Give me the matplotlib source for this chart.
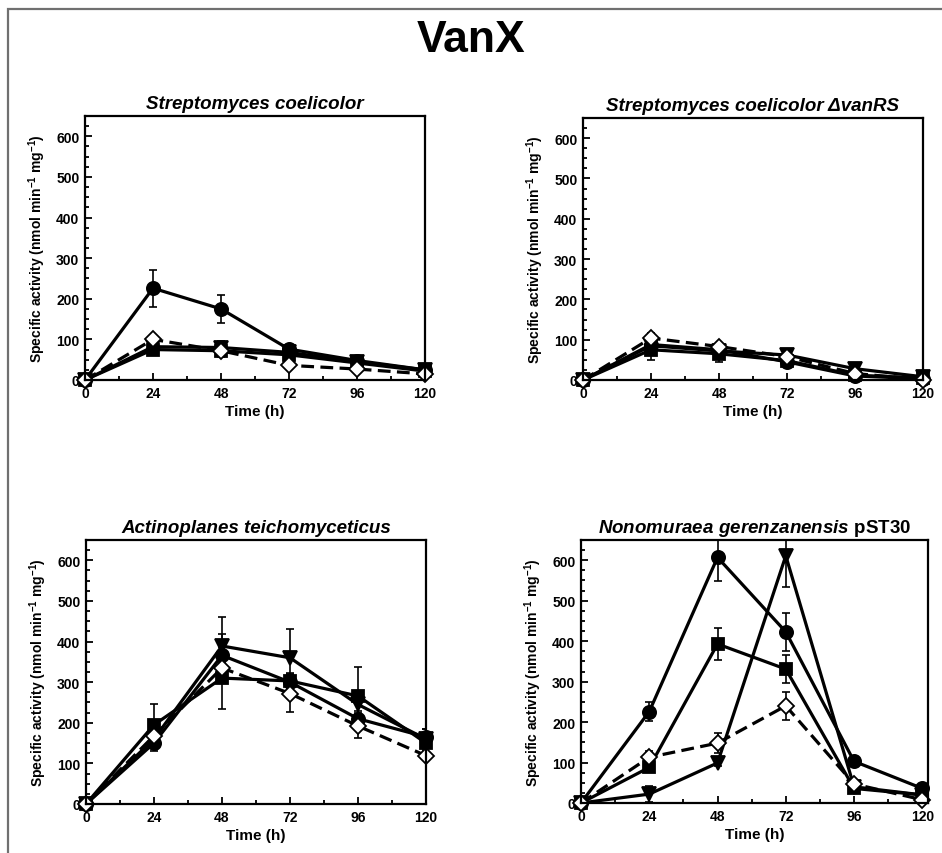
"""VanX specific activity time courses, four strains."""

import matplotlib
matplotlib.use("Agg")
import matplotlib.pyplot as plt
from matplotlib.patches import Rectangle
from matplotlib.ticker import MultipleLocator

plt.rcParams["font.family"] = ["Liberation Sans", "DejaVu Sans"]
plt.rcParams["font.weight"] = "bold"
plt.rcParams["mathtext.fontset"] = "custom"
plt.rcParams["mathtext.rm"] = "Liberation Sans:bold"
plt.rcParams["mathtext.bf"] = "Liberation Sans:bold"
plt.rcParams["mathtext.it"] = "Liberation Sans:bold:italic"

times = [0, 24, 48, 72, 96, 120]

# S. coelicolor
sc_circle = [0, 226, 175, 76, 48, 25]
sc_circle_err = [0, 46, 35, 10, 6, 5]
sc_square = [0, 75, 72, 62, 42, 22]
sc_square_err = [0, 8, 8, 6, 5, 4]
sc_tri = [0, 82, 80, 68, 45, 25]
sc_tri_err = [0, 10, 15, 6, 5, 4]
sc_diamond = [0, 100, 72, 36, 27, 15]
sc_diamond_err = [0, 10, 15, 6, 5, 3]

# S. coelicolor delta vanRS
vr_circle = [0, 88, 75, 45, 10, 3]
vr_circle_err = [0, 10, 10, 5, 4, 2]
vr_square = [0, 75, 65, 48, 12, 5]
vr_square_err = [0, 25, 20, 6, 4, 2]
vr_tri = [0, 85, 72, 62, 28, 8]
vr_tri_err = [0, 10, 10, 12, 5, 2]
vr_diamond = [0, 104, 83, 58, 16, 1]
vr_diamond_err = [0, 12, 6, 8, 5, 2]

# Actinoplanes teichomyceticus
at_circle = [0, 150, 366, 300, 210, 165]
at_circle_err = [0, 20, 52, 20, 20, 20]
at_square = [0, 195, 310, 303, 266, 150]
at_square_err = [0, 50, 77, 20, 72, 20]
at_tri = [0, 160, 389, 360, 245, 160]
at_tri_err = [0, 15, 72, 70, 20, 25]
at_diamond = [0, 168, 335, 272, 192, 119]
at_diamond_err = [0, 10, 15, 45, 30, 5]

# Nonomuraea gerenzanensis pST30
ng_circle = [0, 226, 607, 423, 103, 36]
ng_circle_err = [0, 24, 58, 47, 8, 5]
ng_square = [0, 88, 393, 331, 36, 20]
ng_square_err = [0, 8, 40, 34, 5, 4]
ng_tri = [0, 22, 99, 611, 40, 20]
ng_tri_err = [0, 20, 8, 77, 5, 4]
ng_diamond = [0, 113, 148, 240, 47, 8]
ng_diamond_err = [0, 16, 25, 35, 6, 3]

panels = [
    {
        "title": "Streptomyces coelicolor",
        "rect": [85, 117, 425, 381],
        "xmax": 120,
        "series": [(sc_circle, sc_circle_err), (sc_square, sc_square_err),
                   (sc_tri, sc_tri_err), (sc_diamond, sc_diamond_err)],
    },
    {
        "title": "Streptomyces coelicolor \u0394vanRS",
        "rect": [583, 119, 923, 381],
        "xmax": 120,
        "series": [(vr_circle, vr_circle_err), (vr_square, vr_square_err),
                   (vr_tri, vr_tri_err), (vr_diamond, vr_diamond_err)],
    },
    {
        "title": "Actinoplanes teichomyceticus",
        "rect": [86, 541, 426, 805],
        "xmax": 120,
        "series": [(at_circle, at_circle_err), (at_square, at_square_err),
                   (at_tri, at_tri_err), (at_diamond, at_diamond_err)],
    },
    {
        "title": r"$\mathit{Nonomuraea\ gerenzanensis}$ pST30",
        "rect": [581, 541, 928, 804],
        "xmax": 122,
        "series": [(ng_circle, ng_circle_err), (ng_square, ng_square_err),
                   (ng_tri, ng_tri_err), (ng_diamond, ng_diamond_err)],
    },
]

STYLES = [
    dict(marker="o", mfc="black", ls="-", ms=9.5),
    dict(marker="s", mfc="black", ls="-", ms=8.5),
    dict(marker="v", mfc="black", ls="-", ms=10),
    dict(marker="D", mfc="white", ls="--", ms=8),
]

W, H = 942, 854
fig = plt.figure(figsize=(W / 100, H / 100), dpi=100)

fig.patches.append(Rectangle((8 / W, -0.1), 1.2, 1.1 - 10 / H, transform=fig.transFigure,
                             fill=False, ec="#707070", lw=1.6))
fig.text(0.5, 1 - 41 / H, "VanX", ha="center", va="center", fontsize=32,
         fontweight="bold", family=["Liberation Sans Narrow", "Liberation Sans"])

for p in panels:
    l, t, r, b = p["rect"]
    ax = fig.add_axes([l / W, 1 - b / H, (r - l) / W, (b - t) / H])
    for (vals, err), st in zip(p["series"], STYLES):
        ax.errorbar(times, vals, yerr=err, fmt="none", ecolor="black",
                    elinewidth=1.2, capsize=3, capthick=1.2)
        ax.plot(times, vals, color="black", lw=2.3, mec="black", mew=1.3,
                clip_on=False, dashes=(4, 2) if st["ls"] == "--" else (None, None),
                **{k: v for k, v in st.items() if k != "ls"})
    ax.set_xlim(0, p["xmax"])
    ax.set_ylim(0, 650)
    ax.set_xticks(times)
    ax.xaxis.set_minor_locator(MultipleLocator(12))
    ax.yaxis.set_major_locator(MultipleLocator(100))
    ax.yaxis.set_minor_locator(MultipleLocator(25))
    ax.tick_params(which="both", direction="in", top=False, right=False,
                   labelsize=10, width=1.3)
    ax.tick_params(which="major", length=5, pad=4)
    ax.tick_params(which="minor", length=3)
    for lab in ax.get_xticklabels() + ax.get_yticklabels():
        lab.set_fontweight("bold")
    for sp in ax.spines.values():
        sp.set_linewidth(1.6)
    ax.set_xlabel("Time (h)", fontsize=11, fontweight="bold", labelpad=3)
    ax.set_ylabel("Specific activity (nmol min$^{-1}$ mg$^{-1}$)", fontsize=10,
                  fontweight="bold", labelpad=6)
    if p["title"].startswith("$"):
        ax.set_title(p["title"], fontsize=13.5, fontweight="bold", pad=6)
    else:
        ax.set_title(p["title"], fontsize=13.5, fontweight="bold", style="italic", pad=6)

fig.savefig("out.png", dpi=100)
